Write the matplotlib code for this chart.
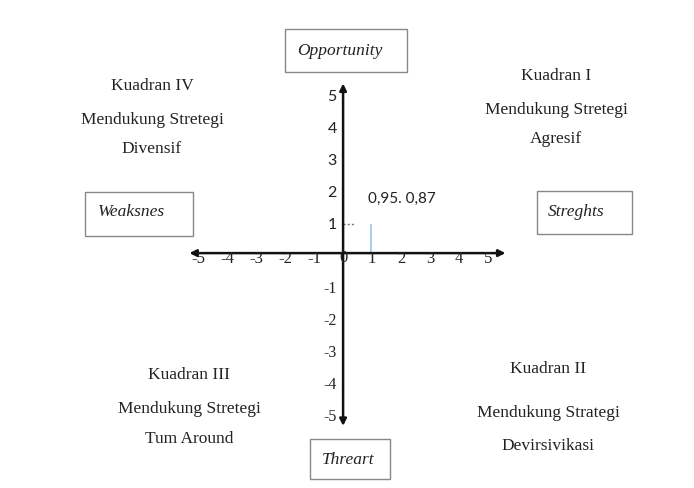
import matplotlib.pyplot as plt
from matplotlib.patches import Rectangle

# dati della matrice
x_ticks = [-5, -4, -3, -2, -1, 1, 2, 3, 4, 5]
y_ticks = [5, 4, 3, 2, 1, -1, -2, -3, -4, -5]
point_x = 0.95
point_y = 0.87
point_label = "0,95. 0,87"

quadrants = [
    (["Kuadran IV", "Mendukung Stretegi", "Divensif"], -6.59, [5.25, 4.19, 3.28]),
    (["Kuadran I", "Mendukung Stretegi", "Agresif"], 7.34, [5.56, 4.5, 3.59]),
    (["Kuadran III", "Mendukung Stretegi", "Tum Around"], -5.31, [-3.78, -4.84, -5.78]),
    (["Kuadran II", "Mendukung Strategi", "Devirsivikasi"], 7.07, [-3.59, -4.97, -6.0]),
]

# (testo, x0, y0, x1, y1, tx, ty)
boxes = [
    ("Opportunity", -2.0, 5.66, 2.21, 7.0, -0.1, 6.34),
    ("Threart", -1.14, -7.06, 1.62, -5.81, 0.17, -6.44),
    ("Weaksnes", -8.9, 0.53, -5.17, 1.91, -7.31, 1.31),
    ("Streghts", 6.69, 0.59, 9.97, 1.94, 8.03, 1.31),
]

serif = "Liberation Serif"
sans = "Lato"

fig = plt.figure(figsize=(6.94, 4.89), dpi=100)
ax = fig.add_axes([0, 0, 1, 1])
ax.set_xlim(-11.83, 12.10)
ax.set_ylim(-7.34, 7.94)
ax.axis("off")

# assi con frecce
ax.annotate("", xy=(5.6, 0), xytext=(-5.3, 0),
            arrowprops=dict(arrowstyle="<|-|>", color="#111111", lw=1.8,
                            mutation_scale=10, shrinkA=0, shrinkB=0))
ax.annotate("", xy=(0, 5.3), xytext=(0, -5.4),
            arrowprops=dict(arrowstyle="<|-|>", color="#111111", lw=1.8,
                            mutation_scale=10, shrinkA=0, shrinkB=0))

# etichette degli assi
for v in x_ticks:
    ax.text(v, -0.15, str(v), ha="center", va="center", fontsize=12,
            family=serif, color="#222222")
ax.text(0, -0.12, "0", ha="center", va="center", fontsize=12,
        family=serif, color="#222222")
for v in y_ticks:
    fam = sans if v > 0 else serif
    ax.text(-0.22, v - 0.1, str(v), ha="right", va="center", fontsize=11.5,
            family=fam, color="#222222")

# punto
ax.plot([point_x, point_x], [0, point_y], color="#9ec3e6", lw=1.2)
ax.plot([0, 0.4], [point_y + 0.05, point_y + 0.05], color="#777777",
        lw=1, linestyle=(0, (1.5, 1.5)))
ax.text(point_x - 0.1, point_y + 0.85, point_label, ha="left", va="center",
        fontsize=11, family=sans, color="#222222")

# quadranti
for lines, qx, qys in quadrants:
    for txt, qy in zip(lines, qys):
        ax.text(qx, qy, txt, ha="center", va="center", fontsize=12.5,
                family=serif, color="#222222")

# riquadri
for txt, x0, y0, x1, y1, tx, ty in boxes:
    ax.add_patch(Rectangle((x0, y0), x1 - x0, y1 - y0, fill=False,
                           edgecolor="#888888", lw=1))
    ax.text(tx, ty, txt, ha="center", va="center", fontsize=12.5,
            family=serif, style="italic", color="#222222")

fig.savefig("out.png", dpi=100)
